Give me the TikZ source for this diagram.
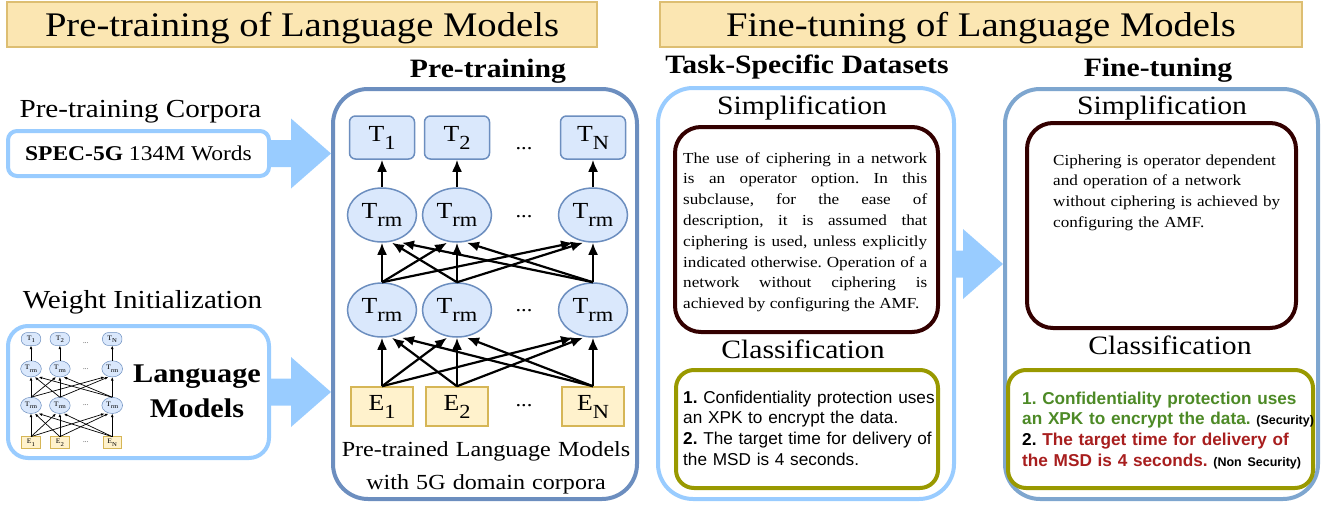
\documentclass[tikz,border=0pt]{standalone}
\usepackage{fontspec}
\setmainfont{Liberation Serif}[FakeStretch=1.12]
\setsansfont{Liberation Sans}
\usepackage{tikz}
\usetikzlibrary{calc}
\usetikzlibrary{shapes.geometric}
\usetikzlibrary{arrows.meta}

\definecolor{titlefill}{HTML}{FBE6B2}
\definecolor{titleline}{HTML}{DDBE72}
\definecolor{tokfill}{HTML}{DAE8FC}
\definecolor{tokline}{HTML}{6C8EBF}
\definecolor{embfill}{HTML}{FFF2CC}
\definecolor{embline}{HTML}{D6B656}
\definecolor{lightblue}{HTML}{99CCFF}
\definecolor{darkblue}{HTML}{6C8EBF}
\definecolor{ftblue}{HTML}{7EA6CF}
\definecolor{maroon}{HTML}{330000}
\definecolor{olive}{HTML}{999900}
\definecolor{secgreen}{HTML}{4D8A26}
\definecolor{secred}{HTML}{A81E1E}

% lowered subscript of the token labels
\newcommand{\lsub}[1]{\raisebox{-0.35em}{\fontsize{20}{20}\selectfont #1}}

\tikzset{
  netnode/.style={line width=1.5pt, inner sep=0pt, font=\fontsize{23}{26}\selectfont},
  tokbox/.style={netnode, draw=tokline, fill=tokfill, rounded corners=6pt, minimum width=65pt, minimum height=43pt},
  trmnode/.style={netnode, ellipse, draw=tokline, fill=tokfill, minimum width=69pt, minimum height=54pt},
  embbox/.style={netnode, draw=embline, fill=embfill, minimum width=62pt, minimum height=39pt},
  dotnode/.style={anchor=base, inner sep=0pt, font=\fontsize{20}{20}\selectfont},
  titlebox/.style={draw=titleline, fill=titlefill, line width=1.2pt, inner sep=0pt, minimum height=45pt, text height=23pt, text depth=0pt, font=\fontsize{34.5}{40}\selectfont},
  headlabel/.style={anchor=base, inner sep=0pt, font=\fontsize{26.5}{30}\selectfont\bfseries},
  sidelabel/.style={anchor=base, inner sep=0pt, font=\fontsize{26}{30}\selectfont},
  partlabel/.style={anchor=base, inner sep=0pt, font=\fontsize{26.5}{30}\selectfont},
  bigbox/.style={line width=4pt, rounded corners=35pt, fill=white},
  simpbox/.style={draw=maroon, line width=4pt, rounded corners=26pt, fill=white, minimum height=205pt},
  clsbox/.style={draw=olive, line width=4pt, rounded corners=18pt, fill=white, minimum height=118pt},
  paratext/.style={anchor=base west, inner sep=0pt, font=\fontsize{15.3}{20.8}\selectfont\frenchspacing},
  clstext/.style={anchor=base west, inner sep=0pt, align=left, text width=260pt, font=\sffamily\fontsize{17.2}{20.7}\selectfont\frenchspacing}
}

% the network: #1 = prefix of the node names, #2 = node scale
\newcommand{\bertnet}[2]{%
  \foreach \k/\x/\lbl in {1/0/1,2/75/2,3/211/N} {
    \node[tokbox, scale=#2] (#1t\k) at (\x,0) {T\lsub{\lbl}};
    \node[trmnode, scale=#2] (#1u\k) at (\x,77.5) {T\lsub{rm}};
    \node[trmnode, scale=#2] (#1l\k) at (\x,172.5) {T\lsub{rm}};
    \node[embbox, scale=#2] (#1e\k) at (\x,269) {E\lsub{\lbl}};
  }
  % dots between the columns
  \foreach \r/\y in {1/11.5,2/80,3/174,4/268.5}
    \node[dotnode, scale=#2] (#1d\r) at (142,\y) {...};
  % upper layer to the output tokens
  \foreach \k in {1,2,3}
    \draw[->] (#1u\k.north) -- (#1t\k.south);
  % every node to every node of the next layer
  \foreach \i in {1,2,3} {
    \foreach \j in {1,2,3} {
      \draw[->] (#1e\i.north) -- ($(#1l\j.south)+({10*(\i-\j)},0)$);
      \draw[->] (#1l\i.north) -- ($(#1u\j.south)+({10*(\i-\j)},0)$);
    }
  }
}

% wide block arrow: #1 = start point, #2 = node it points at
\newcommand{\fatarrow}[2]{%
  \fill[lightblue] let \p1=#1, \p2=(#2.west) in
    (\x1,\y1+13.5pt) -- (\x2-40pt,\y1+13.5pt) -- (\x2-40pt,\y1+35pt) -- (\x2,\y1)
    -- (\x2-40pt,\y1-35pt) -- (\x2-40pt,\y1-13.5pt) -- (\x1,\y1-13.5pt) -- cycle;
}

\begin{document}
\begin{tikzpicture}[x=1pt,y=-1pt,>={Latex[length=12pt,width=10pt]}]

        \useasboundingbox (0,0) rectangle (1330,506);

        % the two titles
        \node[titlebox, minimum width=590pt] (pretitle) at (302,24.5) {Pre-training of Language Models};
        \node[titlebox, minimum width=642pt] (fttitle) at (981,24.5) {Fine-tuning of Language Models};

        % left column: corpora and weights
        \node[sidelabel] (corpuslabel) at (140.5,117) {Pre-training Corpora};
        \node[draw=lightblue, line width=4pt, rounded corners=9pt, fill=white,
              minimum width=261pt, minimum height=45pt, inner sep=0pt,
              text height=14pt, text depth=0pt, font=\fontsize{21}{24}\selectfont]
              (spec) at (138.5,153.5) {\textbf{SPEC-5G} 134M Words};
        \node[sidelabel] (weightlabel) at (142.5,308) {Weight Initialization};
        \node[draw=lightblue, line width=4pt, rounded corners=20pt, fill=white,
              minimum width=261pt, minimum height=132pt] (lmbox) at (138.5,392) {};
        \node[anchor=base, inner sep=0pt, align=center, text width=140pt,
              font=\fontsize{27}{35}\selectfont\bfseries] (lmtext) at (197,382) {Language\\Models};

        % the three big boxes
        \node[bigbox, draw=darkblue, minimum width=304pt, minimum height=410pt] (pre) at (485,294) {};
        \node[bigbox, draw=lightblue, minimum width=296pt, minimum height=411pt] (task) at (806,293.5) {};
        \node[bigbox, draw=ftblue, minimum width=313pt, minimum height=410pt] (ft) at (1161.5,294) {};

        % block arrows between them
        \fatarrow{(spec.east)}{pre}
        \fatarrow{(lmbox.east)}{pre}
        \fatarrow{([yshift=29.5pt]task.east)}{ft}

        % headings above the boxes
        \node[headlabel] (prelabel) at (488,77) {Pre-training};
        \node[headlabel] (tasklabel) at (807,73) {Task-Specific Datasets};
        \node[headlabel] (ftlabel) at (1158,76) {Fine-tuning};

        % the big network
        \begin{scope}[shift={(382,137.5)}, line width=2.2pt]
            \bertnet{b}{1}
        \end{scope}

        % the small copy in the weight box
        \begin{scope}[shift={(31,339)}, x=0.385pt, y=-0.385pt, line width=0.7pt,
                      >={Latex[length=3.5pt,width=2.8pt]},
                      netnode/.style={line width=0.5pt, inner sep=0pt, font=\fontsize{23}{26}\selectfont}]
            \bertnet{s}{0.3}
        \end{scope}

        \node[anchor=base, inner sep=0pt, align=center, text width=300pt,
              font=\fontsize{21.5}{33}\selectfont] (pretext) at (486,456)
              {Pre-trained Language Models\\with 5G domain corpora};

        % task-specific datasets
        \node[partlabel] (tasksimplabel) at (802,114) {Simplification};
        \node[simpbox, minimum width=263pt] (tasksimpbox) at (806.5,229.5) {};
        \node[paratext, text width=244pt, align=justify] (tasksimp) at (683,163)
              {The use of ciphering in a network\linebreak
               is an operator option. In this\linebreak
               subclause, for the ease of\linebreak
               description, it is assumed that\linebreak
               ciphering is used, unless explicitly\linebreak
               indicated otherwise. Operation of a\linebreak
               network without ciphering is\linebreak
               achieved by configuring the AMF.};
        \node[partlabel] (taskclslabel) at (803,358) {Classification};
        \node[clsbox, minimum width=262pt] (taskclsbox) at (807,429) {};
        \node[clstext] (taskcls) at (683,403)
              {\textbf{1.} Confidentiality protection uses\\
               an XPK to encrypt the data.\\
               \textbf{2.} The target time for delivery of\\
               the MSD is 4 seconds.};

        % fine-tuning results
        \node[partlabel] (ftsimplabel) at (1162,114) {Simplification};
        \node[simpbox, minimum width=269pt] (ftsimpbox) at (1161.5,225.5) {};
        \node[paratext, text width=240pt, align=left] (ftsimp) at (1053,165)
              {Ciphering is operator dependent\\
               and operation of a network\\
               without ciphering is achieved by\\
               configuring the AMF.};
        \node[partlabel] (ftclslabel) at (1170,354) {Classification};
        \node[clsbox, minimum width=305pt] (ftclsbox) at (1160.5,429) {};
        \node[clstext, text width=295pt] (ftcls) at (1022,404)
              {\bfseries{\color{secgreen}1. Confidentiality protection uses\\
               an XPK to encrypt the data.} {\fontsize{12.5}{12.5}\selectfont(Security)}\\
               2. {\color{secred}The target time for delivery of\\
               the MSD is 4 seconds.} {\fontsize{12.5}{12.5}\selectfont(Non Security)}};

\end{tikzpicture}
\end{document}
